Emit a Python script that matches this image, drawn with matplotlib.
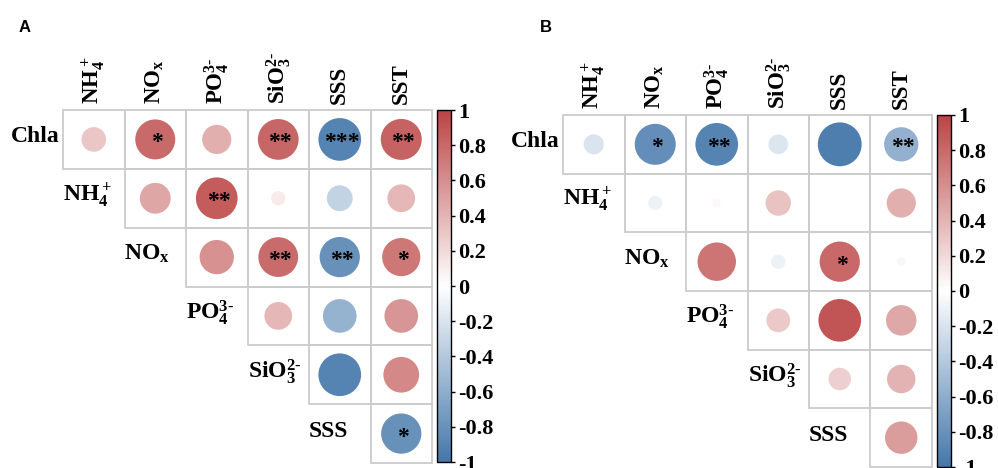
import numpy as np
import matplotlib
import matplotlib.pyplot as plt
from matplotlib.colors import LinearSegmentedColormap, Normalize
from matplotlib.cm import ScalarMappable

plt.rcParams['font.family'] = 'Liberation Serif'
plt.rcParams['font.weight'] = 'bold'
plt.rcParams['mathtext.fontset'] = 'custom'
plt.rcParams['mathtext.rm'] = 'Liberation Serif:bold'
plt.rcParams['mathtext.bf'] = 'Liberation Serif:bold'
plt.rcParams['mathtext.it'] = 'Liberation Serif:bold'

# variables
col_labels = [r'$\mathrm{NH_4^+}$', r'$\mathrm{NO_x}$', r'$\mathrm{PO_4^{3\text{-}}}$',
              r'$\mathrm{SiO_3^{2\text{-}}}$', 'SSS', 'SST']
row_labels = ['Chla', r'$\mathrm{NH_4^+}$', r'$\mathrm{NO_x}$', r'$\mathrm{PO_4^{3\text{-}}}$',
              r'$\mathrm{SiO_3^{2\text{-}}}$', 'SSS']

# upper triangle correlations, one list per row
corr_a = [
    [0.30, 0.79, 0.42, 0.82, -0.90, 0.83],
    [0.47, 0.86, 0.10, -0.33, 0.38],
    [0.58, 0.78, -0.80, 0.72],
    [0.38, -0.56, 0.56],
    [-0.90, 0.63],
    [-0.80],
]
sig_a = [
    ['', '*', '', '**', '***', '**'],
    ['', '**', '', '', ''],
    ['', '**', '**', '*'],
    ['', '', ''],
    ['', ''],
    ['*'],
]
corr_b = [
    [-0.20, -0.83, -0.90, -0.19, -0.95, -0.58],
    [-0.10, 0.03, 0.32, 0.0, 0.42],
    [0.73, -0.10, 0.80, 0.04],
    [0.28, 0.90, 0.46],
    [0.25, 0.40],
    [0.52],
]
sig_b = [
    ['', '*', '**', '', '', '**'],
    ['', '', '', '', ''],
    ['', '', '*', ''],
    ['', '', ''],
    ['', ''],
    [''],
]
cbar_ticks = [-1, -0.8, -0.6, -0.4, -0.2, 0, 0.2, 0.4, 0.6, 0.8, 1]

cmap = LinearSegmentedColormap.from_list('corr', ['#4477AA', '#FFFFFF', '#BB4444'], N=200)
norm = Normalize(-1, 1)

W, H = 998, 468
fig = plt.figure(figsize=(W / 100, H / 100), dpi=100)


def px_axes(x0, y0, x1, y1):
    return fig.add_axes([x0 / W, 1 - y1 / H, (x1 - x0) / W, (y1 - y0) / H])


def draw_panel(box, cbox, corr, sig, letter, lpos):
    ax = px_axes(*box)
    ax.set_xlim(0, 6)
    ax.set_ylim(6, 0)
    ax.axis('off')

    xs, ys, vals, sizes = [], [], [], []
    for i, row in enumerate(corr):
        for k, v in enumerate(row):
            j = i + k
            ax.add_patch(plt.Rectangle((j, i), 1, 1, fill=False,
                                       edgecolor='#CCCCCC', lw=1.3, clip_on=False))
            xs.append(j + 0.5)
            ys.append(i + 0.5)
            vals.append(v)
            d_px = 45 * np.sqrt(abs(v))
            sizes.append((d_px * 0.72) ** 2)
            if sig[i][k]:
                ax.text(j + 0.53, i + 0.56, sig[i][k], ha='center', va='center',
                        fontsize=17, color='black', zorder=3)
    ax.scatter(xs, ys, s=sizes, c=vals, cmap=cmap, norm=norm,
               edgecolors='none', zorder=1, clip_on=False)

    for j, lab in enumerate(col_labels):
        ax.text(j + 0.5, -0.1, lab, rotation=90, ha='center', va='bottom',
                fontsize=16.5)
    for i, lab in enumerate(row_labels):
        if i == 0:
            ax.text(-0.05, i + 0.55, lab, ha='right', va='baseline', fontsize=17)
        else:
            ax.text(i - 1, i + 0.55, lab, ha='left', va='baseline', fontsize=17)

    cax = px_axes(*cbox)
    cb = fig.colorbar(ScalarMappable(norm=norm, cmap=cmap), cax=cax,
                      ticks=cbar_ticks)
    cb.outline.set_linewidth(1.0)
    cb.outline.set_edgecolor('black')
    cb.ax.set_yticklabels(['%g' % t for t in cbar_ticks])
    cb.ax.tick_params(direction='out', length=3, width=1, labelsize=16, pad=2)

    fig.text(lpos[0] / W, 1 - lpos[1] / H, letter, fontfamily='Liberation Sans',
             fontweight='bold', fontsize=12, ha='left', va='baseline')


draw_panel((63, 110, 432, 463), (437, 110, 451, 462), corr_a, sig_a, 'A', (19, 32))
draw_panel((563, 115, 932, 467), (937, 115, 951, 467), corr_b, sig_b, 'B', (540, 32))

fig.savefig('out.png', dpi=100)
